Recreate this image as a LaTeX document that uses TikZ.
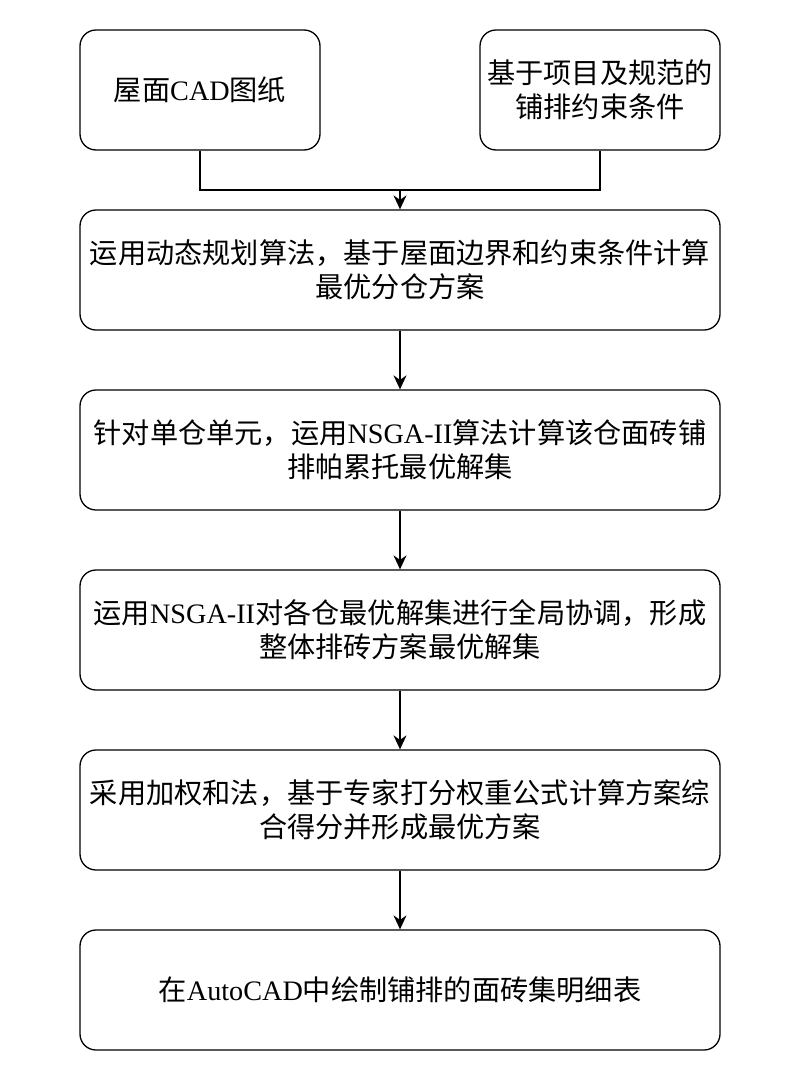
\documentclass[tikz,border=0pt]{standalone}
\usepackage{fontspec}
\setmainfont{Noto Sans CJK SC}
\newfontfamily\lat{Liberation Serif}
\usetikzlibrary{arrows.meta}
\begin{document}
\begin{tikzpicture}[x=1pt,y=-1pt,
  box/.style={draw,line width=1.3pt,rounded corners=16pt,align=center,font=\fontsize{28.2}{34}\selectfont,inner sep=0},
  arr/.style={line width=1.3pt,-{Stealth[length=14pt,width=13pt]}}]
\useasboundingbox (0,0) rectangle (800,1082);
\node[box,minimum width=240pt,minimum height=120pt] (a) at (200,90) {屋面{\lat CAD}图纸};
\node[box,minimum width=240pt,minimum height=120pt] (b) at (600,90) {基于项目及规范的\\铺排约束条件};
\node[box,minimum width=640pt,minimum height=120pt] (c) at (400,270) {运用动态规划算法，基于屋面边界和约束条件计算\\最优分仓方案};
\node[box,minimum width=640pt,minimum height=120pt] (d) at (400,450) {针对单仓单元，运用{\lat NSGA-II}算法计算该仓面砖铺\\排帕累托最优解集};
\node[box,minimum width=640pt,minimum height=120pt] (e) at (400,630) {运用{\lat NSGA-II}对各仓最优解集进行全局协调，形成\\整体排砖方案最优解集};
\node[box,minimum width=640pt,minimum height=120pt] (f) at (400,810) {采用加权和法，基于专家打分权重公式计算方案综\\合得分并形成最优方案};
\node[box,minimum width=640pt,minimum height=120pt] (g) at (400,990) {在{\lat AutoCAD}中绘制铺排的面砖集明细表};
\coordinate (m) at (400,190);
\draw[line width=1.3pt] (a.south) |- (m) -| (b.south);
\draw[arr] (m) -- (c.north);
\draw[arr] (c) -- (d);
\draw[arr] (d) -- (e);
\draw[arr] (e) -- (f);
\draw[arr] (f) -- (g);
\end{tikzpicture}
\end{document}
